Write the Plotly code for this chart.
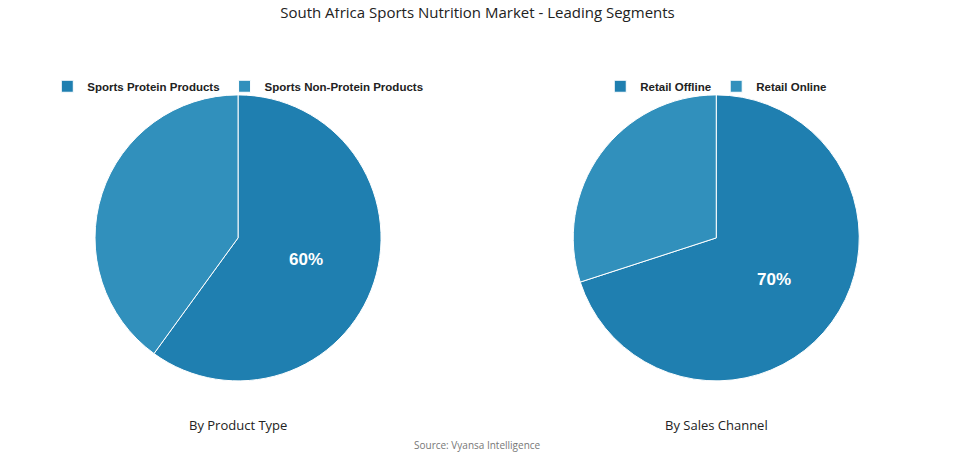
import plotly.graph_objects as go

product_labels = ["Sports Protein Products", "Sports Non-Protein Products"]
product_values = [60, 40]
channel_labels = ["Retail Offline", "Retail Online"]
channel_values = [70, 30]
colors = ["#1f7fb0", "#3190bc"]

def pct_text(vals):
    top = max(vals)
    return [f"{v}%" if v == top else "" for v in vals]

# page body has an 8px margin, so shift things up-left by that
dx = 8 / 955
dy = 8 / 454

fig = go.Figure()
fig.add_trace(go.Pie(
    labels=product_labels, values=product_values, sort=False, direction="clockwise",
    marker=dict(colors=colors, line=dict(color="white", width=1)),
    text=pct_text(product_values), textinfo="text", textposition="inside",
    insidetextfont=dict(color="white", size=17, family="Liberation Sans", weight="bold"),
    domain=dict(x=[0.0995 - dx, 0.399 - dx], y=[0.161 + dy, 0.791 + dy]), legend="legend",
    hoverinfo="label+percent",
))
fig.add_trace(go.Pie(
    labels=channel_labels, values=channel_values, sort=False, direction="clockwise",
    marker=dict(colors=colors, line=dict(color="white", width=1)),
    text=pct_text(channel_values), textinfo="text", textposition="inside",
    insidetextfont=dict(color="white", size=17, family="Liberation Sans", weight="bold"),
    domain=dict(x=[0.6 - dx, 0.9 - dx], y=[0.161 + dy, 0.791 + dy]), legend="legend2",
    hoverinfo="label+percent",
))

legend_style = dict(orientation="h", xanchor="center", yanchor="middle", y=0.81 + dy,
                    font=dict(size=11.5, family="Liberation Sans", color="#222", weight="bold"),
                    itemclick=False, bgcolor="rgba(0,0,0,0)")

ann_font = dict(size=13, family="Open Sans", color="#222")
fig.update_layout(
    width=955, height=454, margin=dict(l=0, r=0, t=0, b=0),
    paper_bgcolor="white", plot_bgcolor="white",
    title=dict(text="South Africa Sports Nutrition Market - Leading Segments",
               x=0.5 - dx, y=0.99, xanchor="center", yanchor="middle",
               font=dict(size=15, family="Open Sans", color="#222")),
    legend=dict(x=0.249 - dx, **legend_style),
    legend2=dict(x=0.75 - dx, **legend_style),
    annotations=[
        dict(text="By Product Type", x=0.249 - dx, y=0.057, xref="paper", yref="paper",
             xanchor="center", showarrow=False, font=ann_font),
        dict(text="By Sales Channel", x=0.75 - dx, y=0.057, xref="paper", yref="paper",
             xanchor="center", showarrow=False, font=ann_font),
        dict(text="Source: Vyansa Intelligence", x=0.5 - dx, y=0.018, xref="paper", yref="paper",
             xanchor="center", showarrow=False, font=dict(size=10, family="Open Sans", color="#777")),
    ],
)

fig.write_html("out.html")
